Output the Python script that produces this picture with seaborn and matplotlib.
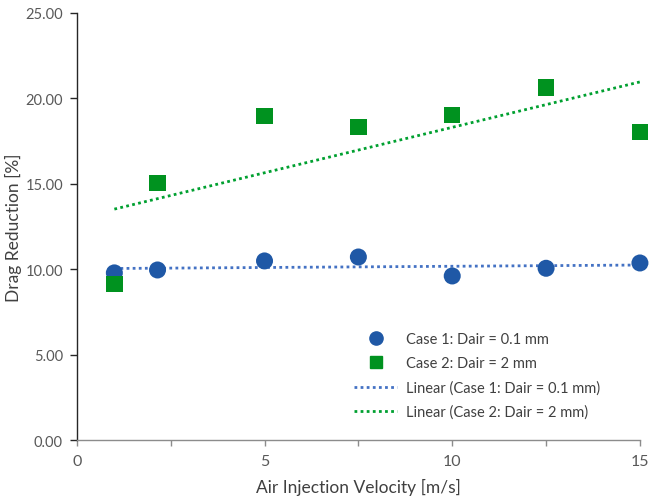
import matplotlib
matplotlib.use("Agg")
import matplotlib.pyplot as plt
import seaborn as sns
import pandas as pd
from matplotlib.lines import Line2D

velocity = [1, 2.15, 5, 7.5, 10, 12.5, 15]
case1 = [9.78, 9.95, 10.48, 10.71, 9.60, 10.05, 10.36]
case2 = [9.13, 15.05, 18.95, 18.33, 19.02, 20.62, 18.02]
label1 = "Case 1: Dair = 0.1 mm"
label2 = "Case 2: Dair = 2 mm"
blue = "#1F58A6"
green = "#00921F"

df1 = pd.DataFrame({"x": velocity, "y": case1})
df2 = pd.DataFrame({"x": velocity, "y": case2})

sns.set_style("white")
plt.rcParams["font.family"] = ["Lato", "DejaVu Sans"]

fig = plt.figure(figsize=(6.51, 5.02), dpi=100)
ax = fig.add_axes([0.118, 0.1215, 0.865, 0.851])

dot = (0, (1, 1.2))
sns.regplot(data=df1, x="x", y="y", ax=ax, scatter=False, ci=None, truncate=True,
            line_kws=dict(color="#4472C4", linestyle=dot, linewidth=2.0))
sns.regplot(data=df2, x="x", y="y", ax=ax, scatter=False, ci=None, truncate=True,
            line_kws=dict(color="#00A030", linestyle=dot, linewidth=2.0))
sns.scatterplot(data=df1, x="x", y="y", ax=ax, marker="o", s=150, color=blue,
                edgecolor="none", zorder=3, clip_on=False)
sns.scatterplot(data=df2, x="x", y="y", ax=ax, marker="s", s=140, color=green,
                edgecolor="none", zorder=3, clip_on=False)

ax.set_xlim(0, 15)
ax.set_ylim(0, 25)
ax.set_xticks([0, 5, 10, 15])
ax.set_xticks([2.5, 7.5, 12.5], minor=True)
ax.set_yticks([0, 5, 10, 15, 20, 25])
ax.set_yticklabels([f"{v:.2f}" for v in [0, 5, 10, 15, 20, 25]])

for s in ["top", "right"]:
    ax.spines[s].set_visible(False)
ax.spines["left"].set_color("#262626")
ax.spines["bottom"].set_color("#8c8c8c")
ax.spines["left"].set_linewidth(1.0)
ax.spines["bottom"].set_linewidth(1.0)
ax.tick_params(axis="x", which="both", direction="out", length=4, width=1,
               color="#8c8c8c", labelsize=11.5, labelcolor="#595959", bottom=True, pad=6)
ax.tick_params(axis="y", which="both", direction="out", length=5, width=1,
               color="#262626", labelsize=10.5, labelcolor="#595959", left=True, pad=5)

ax.set_xlabel("Air Injection Velocity [m/s]", fontsize=12.5, color="#404040", labelpad=7)
ax.set_ylabel("Drag Reduction [%]", fontsize=12.5, color="#404040")
ax.yaxis.set_label_coords(-0.097, 0.5)

handles = [
    Line2D([], [], marker="o", linestyle="none", color=blue, markersize=9.5),
    Line2D([], [], marker="s", linestyle="none", color=green, markersize=9),
    Line2D([], [], color="#4472C4", linestyle=dot, linewidth=2.0),
    Line2D([], [], color="#00A030", linestyle=dot, linewidth=2.0),
]
labels = [label1, label2, "Linear (" + label1 + ")", "Linear (" + label2 + ")"]
leg = ax.legend(handles, labels, loc="lower right", bbox_to_anchor=(0.953, 0.018),
                frameon=False, fontsize=10.5, labelcolor="#404040", handlelength=3.0,
                labelspacing=0.7, handletextpad=0.6)

fig.savefig("out.png", dpi=100)
